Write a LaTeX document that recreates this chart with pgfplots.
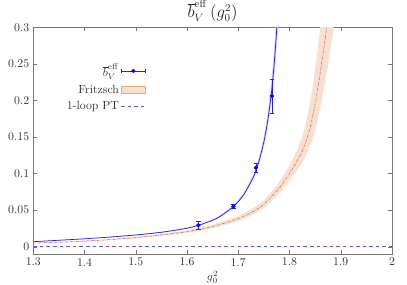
\documentclass[border=0pt]{standalone}
\usepackage{pgfplots}
\pgfplotsset{compat=1.18}
\definecolor{bandpeach}{RGB}{249,223,206}
\definecolor{peachedge}{RGB}{240,170,130}
\definecolor{redline}{RGB}{200,80,80}
\definecolor{blueline}{RGB}{30,30,255}
\definecolor{blueband}{RGB}{208,208,255}
\definecolor{ptblue}{RGB}{90,90,255}
\definecolor{axgray}{RGB}{120,120,120}
\begin{document}
\begin{tikzpicture}
\path[use as bounding box] (0pt,0pt) rectangle (345.95pt,242.25pt);
\begin{axis}[
  at={(28.3pt,26.35pt)}, anchor=south west,
  scale only axis, width=304.9pt, height=192.7pt,
  xmin=1.3, xmax=2, ymin=-0.01, ymax=0.3,
  xtick={1.3,1.4,1.5,1.6,1.7,1.8,1.9,2},
  xticklabels={1.3,1.4,1.5,1.6,1.7,1.8,1.9,2},
  ytick={0,0.05,0.1,0.15,0.2,0.25,0.3},
  yticklabels={0,0.05,0.1,0.15,0.2,0.25,0.3},
  scaled ticks=false,
  tick align=inside, major tick length=3pt,
  axis line style={axgray}, tick style={axgray},
  ticklabel style={text=black!80},
  title={$\overline{b}_V^{\mathrm{eff}}\,(g_0^2)$},
  title style={font=\fontsize{13.5}{16}\selectfont, text=black!85, yshift=-5pt},
  xlabel={$g_0^2$}, xlabel style={text=black!80, yshift=3pt},
  legend plot pos=right, legend cell align=right,
  legend style={at={(rel axis cs:0.325,0.86)}, anchor=north east, draw=none, fill=none,
    row sep=2.5pt, nodes={inner sep=1.5pt, text=black!80}},
]
\addlegendimage{legend image code/.code={
  \draw[blueline, line width=0.6pt] (3pt,0pt) -- (24pt,0pt);
  \draw[blueline, line width=0.6pt] (3pt,-2pt) -- (3pt,2pt);
  \draw[blueline, line width=0.6pt] (24pt,-2pt) -- (24pt,2pt);
  \fill[blue] (13.5pt,0pt) circle (1.6pt);}}
\addlegendentry{$\overline{b}_V^{\mathrm{eff}}$}
\addlegendimage{legend image code/.code={
  \draw[fill=bandpeach, draw=peachedge, line width=0.5pt] (3pt,-3.3pt) rectangle (24pt,3.3pt);}}
\addlegendentry{Fritzsch}
\addlegendimage{legend image code/.code={
  \draw[ptblue, line width=0.6pt, dash pattern=on 3pt off 2.6pt] (3pt,0pt) -- (24pt,0pt);}}
\addlegendentry{1-loop PT}

% Fritzsch band
\addplot[forget plot, fill=bandpeach, draw=none] coordinates {
(1.30,0.00545) (1.35,0.00676) (1.40,0.00828) (1.45,0.01057) (1.50,0.01352)
(1.55,0.01744) (1.60,0.02245) (1.65,0.02998) (1.70,0.04197) (1.73,0.05287)
(1.75,0.06322) (1.7745,0.08284) (1.799,0.109) (1.817,0.1352) (1.826,0.1526)
(1.8345,0.1766) (1.844,0.2126) (1.8485,0.2344) (1.853,0.2594) (1.8575,0.2856)
(1.862,0.3117) (1.867,0.3401) (1.872,0.3706)
(1.888,0.3094) (1.883,0.2839) (1.878,0.2603) (1.8725,0.2384) (1.867,0.2166)
(1.8615,0.1957) (1.856,0.1775) (1.8455,0.1474) (1.834,0.1274) (1.823,0.1128)
(1.801,0.091) (1.7755,0.06916) (1.75,0.05278) (1.73,0.04414) (1.70,0.03504)
(1.65,0.02503) (1.60,0.01875) (1.55,0.01456) (1.50,0.01128) (1.45,0.00883)
(1.40,0.00692) (1.35,0.00564) (1.30,0.00455)
};
% blue band
\addplot[forget plot, fill=blueband, draw=none] coordinates {
(1.30,0.00705) (1.35,0.00910) (1.40,0.01115) (1.45,0.01362) (1.50,0.0165)
(1.55,0.02030) (1.60,0.02596) (1.63,0.03193) (1.66,0.04069) (1.69,0.05614)
(1.71,0.07262) (1.73,0.0989) (1.7397,0.1195) (1.7492,0.1478) (1.7543,0.1669)
(1.7588,0.1900) (1.7638,0.2189) (1.7685,0.2565) (1.7735,0.3059) (1.7755,0.330)
(1.7785,0.310) (1.7765,0.2881) (1.7715,0.2415) (1.7662,0.2061) (1.7612,0.1790)
(1.7557,0.1571) (1.7508,0.1392) (1.7403,0.1125) (1.73,0.0931) (1.71,0.06839)
(1.69,0.05287) (1.66,0.03832) (1.63,0.03007) (1.60,0.02444) (1.55,0.01911)
(1.50,0.0155) (1.45,0.01280) (1.40,0.01048) (1.35,0.00854) (1.30,0.00655)
};
% 1-loop PT
\addplot[forget plot, ptblue, line width=0.6pt, dash pattern=on 3pt off 2.6pt] coordinates {(1.3,0) (2,0)};
% Fritzsch central
\addplot[forget plot, redline, line width=0.4pt, dash pattern=on 2pt off 1pt on 0.5pt off 1pt, smooth] coordinates {
(1.30,0.0050) (1.35,0.0062) (1.40,0.0076) (1.45,0.0097) (1.50,0.0124)
(1.55,0.0160) (1.60,0.0206) (1.65,0.0275) (1.70,0.0385) (1.73,0.0485)
(1.75,0.0580) (1.775,0.0760) (1.80,0.1000) (1.82,0.1240) (1.83,0.1400)
(1.84,0.1620) (1.85,0.1950) (1.855,0.2150) (1.86,0.2380) (1.865,0.2620)
(1.87,0.2860) (1.875,0.3120)
};
% blue fit
\addplot[forget plot, blueline, line width=0.6pt, smooth] coordinates {
(1.30,0.0068) (1.35,0.0088) (1.40,0.0108) (1.45,0.0132) (1.50,0.0160)
(1.55,0.0197) (1.60,0.0252) (1.63,0.0310) (1.66,0.0395) (1.69,0.0545)
(1.71,0.0705) (1.73,0.0960) (1.74,0.1160) (1.75,0.1435) (1.755,0.1620)
(1.76,0.1845) (1.765,0.2125) (1.77,0.2490) (1.775,0.2970) (1.777,0.3200)
};
% data
\addplot[forget plot, blue, only marks, mark=*, mark size=1.6pt,
  error bars/.cd, y dir=both, y explicit,
  error bar style={blueline, line width=0.5pt}, error mark options={rotate=90, mark size=2pt, blueline}]
  coordinates {
  (1.622,0.0293) +- (0,0.0050)
  (1.6906,0.0550) +- (0,0.0030)
  (1.7344,0.1080) +- (0,0.0060)
  (1.7656,0.2060) +- (0,0.0235)
};
\end{axis}
\end{tikzpicture}
\end{document}
